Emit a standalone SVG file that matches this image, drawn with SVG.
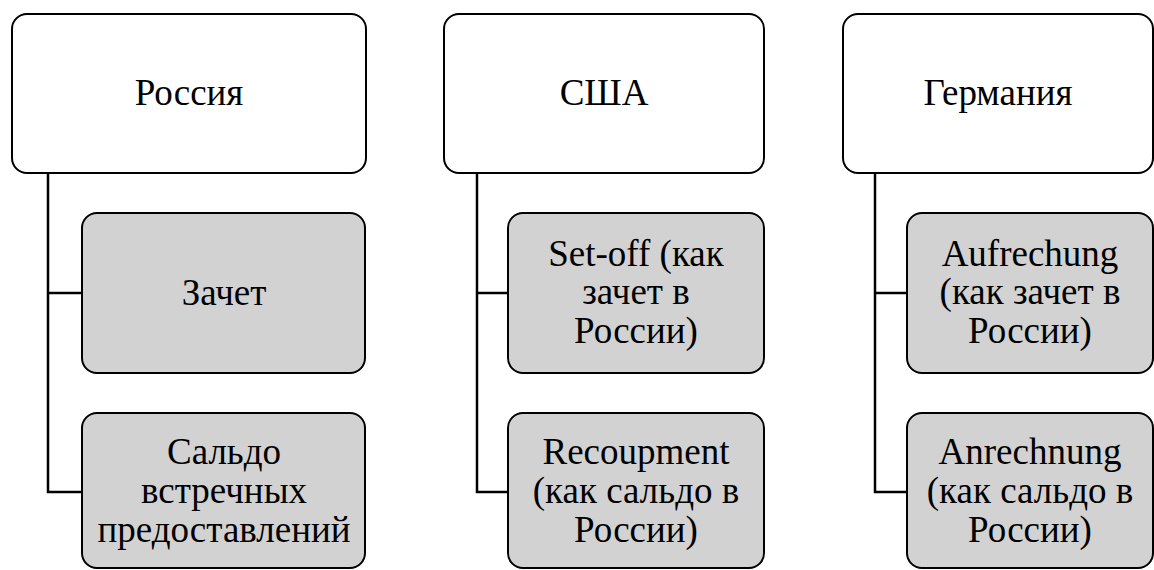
<svg xmlns="http://www.w3.org/2000/svg" width="1154" height="570" viewBox="0 0 1154 570">
<style>
.top{fill:#ffffff;stroke:#000;stroke-width:2}
.child{fill:#d2d2d2;stroke:#000;stroke-width:2}
.c{fill:none;stroke:#000;stroke-width:2.5}
</style>
<g id="connectors">
<path class="c" d="M48 173 V492 H82 M48 293 H82"/>
<path class="c" d="M477 173 V492 H508 M477 293 H508"/>
<path class="c" d="M875 173 V492 H907 M875 293 H907"/>
</g>
<g font-family="Liberation Serif, serif" font-size="37" text-anchor="middle" fill="#000">
<g id="russia">
<rect class="top" x="12" y="14" width="354" height="159" rx="15"/>
<text x="189" y="105">Россия</text>
</g>
<g id="russia-zachet">
<rect class="child" x="82" y="213" width="283" height="160" rx="15"/>
<text x="224" y="305">Зачет</text>
</g>
<g id="russia-saldo">
<rect class="child" x="82" y="413" width="283" height="155" rx="15"/>
<text x="224" y="464">Сальдо</text>
<text x="224" y="503">встречных</text>
<text x="224" y="542">предоставлений</text>
</g>
<g id="usa">
<rect class="top" x="444" y="14" width="320" height="159" rx="15"/>
<text x="604" y="105">США</text>
</g>
<g id="usa-setoff">
<rect class="child" x="508" y="213" width="256" height="160" rx="15"/>
<text x="636" y="266">Set-off (как</text>
<text x="636" y="304">зачет в</text>
<text x="636" y="343">России)</text>
</g>
<g id="usa-recoupment">
<rect class="child" x="508" y="413" width="256" height="155" rx="15"/>
<text x="636" y="464">Recoupment</text>
<text x="636" y="503">(как сальдо в</text>
<text x="636" y="542">России)</text>
</g>
<g id="germany">
<rect class="top" x="843" y="14" width="310" height="159" rx="15"/>
<text x="998" y="105">Германия</text>
</g>
<g id="germany-aufrechung">
<rect class="child" x="907" y="213" width="246" height="160" rx="15"/>
<text x="1030" y="266">Aufrechung</text>
<text x="1030" y="304">(как зачет в</text>
<text x="1030" y="343">России)</text>
</g>
<g id="germany-anrechnung">
<rect class="child" x="907" y="413" width="246" height="155" rx="15"/>
<text x="1030" y="464">Anrechnung</text>
<text x="1030" y="503">(как сальдо в</text>
<text x="1030" y="542">России)</text>
</g>
</g>
</svg>
